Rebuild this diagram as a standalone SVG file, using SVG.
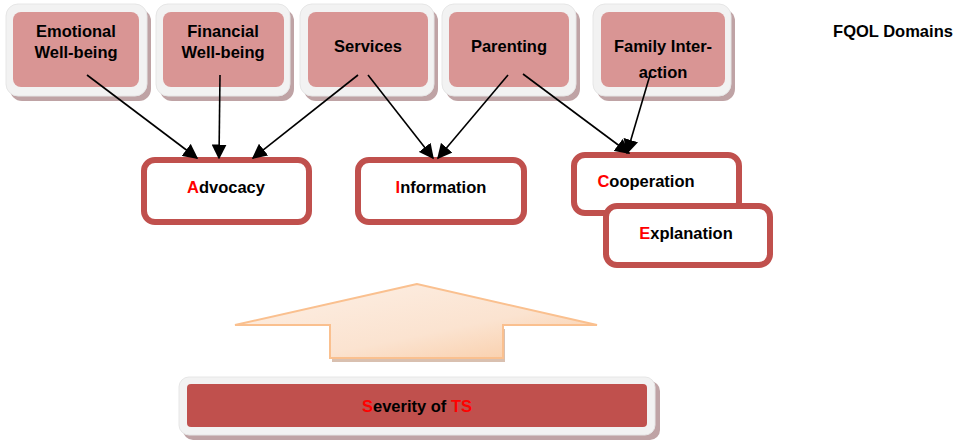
<svg xmlns="http://www.w3.org/2000/svg" width="963" height="442" viewBox="0 0 963 442">
<style>
text{font-family:"Liberation Sans",Arial,sans-serif;font-weight:bold;font-size:16.5px;fill:#000;text-anchor:middle}
.sh{fill:#bfa3a5}
.fr{fill:#f2f2f2;stroke:#e6e6e6;stroke-width:1}
.in{fill:#d99594}
.box{fill:#fff;stroke:#c0504d;stroke-width:6}
.red{fill:#ff0000}
.con{stroke:#000;stroke-width:1.6;fill:none;marker-end:url(#ah)}
</style>
<defs>
<marker id="ah" viewBox="0 0 10 10" refX="9" refY="5" markerWidth="15" markerHeight="15" markerUnits="userSpaceOnUse" orient="auto">
<path d="M0,0 L10,5 L0,10 z" fill="#000"/>
</marker>
<linearGradient id="ag" x1="0" y1="0" x2="1" y2="1">
<stop offset="0" stop-color="#fdf0e6"/>
<stop offset="0.6" stop-color="#fbe3d0"/>
<stop offset="1" stop-color="#f9c9a0"/>
</linearGradient>
</defs>
<rect width="963" height="442" fill="#fff"/>

<g id="emotional">
<rect class="sh" x="10" y="9" width="141" height="92" rx="12"/>
<rect class="fr" x="6" y="4" width="141" height="92" rx="12"/>
<rect class="in" x="13" y="12" width="126" height="75" rx="8"/>
<text x="76" y="37">Emotional</text>
<text x="76" y="58">Well-being</text>
</g>
<g id="financial">
<rect class="sh" x="160" y="9" width="134" height="92" rx="12"/>
<rect class="fr" x="156" y="4" width="134" height="92" rx="12"/>
<rect class="in" x="163" y="12" width="121" height="75" rx="8"/>
<text x="223" y="37">Financial</text>
<text x="223" y="58">Well-being</text>
</g>
<g id="services">
<rect class="sh" x="304" y="9" width="134" height="92" rx="12"/>
<rect class="fr" x="300" y="4" width="134" height="92" rx="12"/>
<rect class="in" x="308" y="12" width="120" height="75" rx="8"/>
<text x="368" y="52">Services</text>
</g>
<g id="parenting">
<rect class="sh" x="446" y="9" width="134" height="92" rx="12"/>
<rect class="fr" x="442" y="4" width="134" height="92" rx="12"/>
<rect class="in" x="449" y="12" width="120" height="75" rx="8"/>
<text x="509" y="52">Parenting</text>
</g>
<g id="family">
<rect class="sh" x="597" y="9" width="138" height="92" rx="12"/>
<rect class="fr" x="593" y="4" width="138" height="92" rx="12"/>
<rect class="in" x="601" y="12" width="124" height="75" rx="8"/>
<text x="663" y="52">Family Inter-</text>
<text x="663" y="78">action</text>
</g>
<g id="title">
<text x="893" y="37" font-size="18">FQOL Domains</text>
</g>

<g id="advocacy">
<rect class="box" x="144" y="160" width="165" height="62" rx="11"/>
<text x="226" y="193"><tspan class="red">A</tspan>dvocacy</text>
</g>
<g id="information">
<rect class="box" x="358" y="160" width="166" height="62" rx="11"/>
<text x="441" y="193"><tspan class="red">I</tspan>nformation</text>
</g>
<g id="cooperation">
<rect class="box" x="574" y="155" width="165" height="58" rx="11"/>
<text x="646" y="187"><tspan class="red">C</tspan>ooperation</text>
</g>
<g id="explanation">
<rect class="box" x="606" y="206" width="164" height="59" rx="11"/>
<text x="686" y="239"><tspan class="red">E</tspan>xplanation</text>
</g>

<g id="connectors">
<line class="con" x1="87" y1="75" x2="197" y2="158"/>
<line class="con" x1="220" y1="75" x2="219" y2="158"/>
<line class="con" x1="358" y1="75" x2="253" y2="158"/>
<line class="con" x1="368" y1="75" x2="433" y2="158"/>
<line class="con" x1="508" y1="75" x2="438" y2="158"/>
<line class="con" x1="523" y1="74" x2="629" y2="153"/>
<line class="con" x1="650" y1="75" x2="627" y2="153"/>
</g>

<g id="bigarrow">
<polygon points="238,329 332,329 332,362 505,362 505,329 600,329" fill="#c9a58f" opacity="0.7"/>
<polygon points="417,284 235,325 330,325 330,358 503,358 503,325 597,325" fill="url(#ag)" stroke="#fac08f" stroke-width="2" stroke-linejoin="miter"/>
</g>

<g id="severity">
<rect class="sh" x="183" y="381" width="477" height="59" rx="10"/>
<rect class="fr" x="179" y="377" width="476" height="58" rx="10"/>
<rect x="187" y="384" width="460" height="43" rx="4" fill="#c0504d"/>
<text x="417" y="412" font-size="20"><tspan class="red">S</tspan>everity of <tspan class="red">TS</tspan></text>
</g>
</svg>
